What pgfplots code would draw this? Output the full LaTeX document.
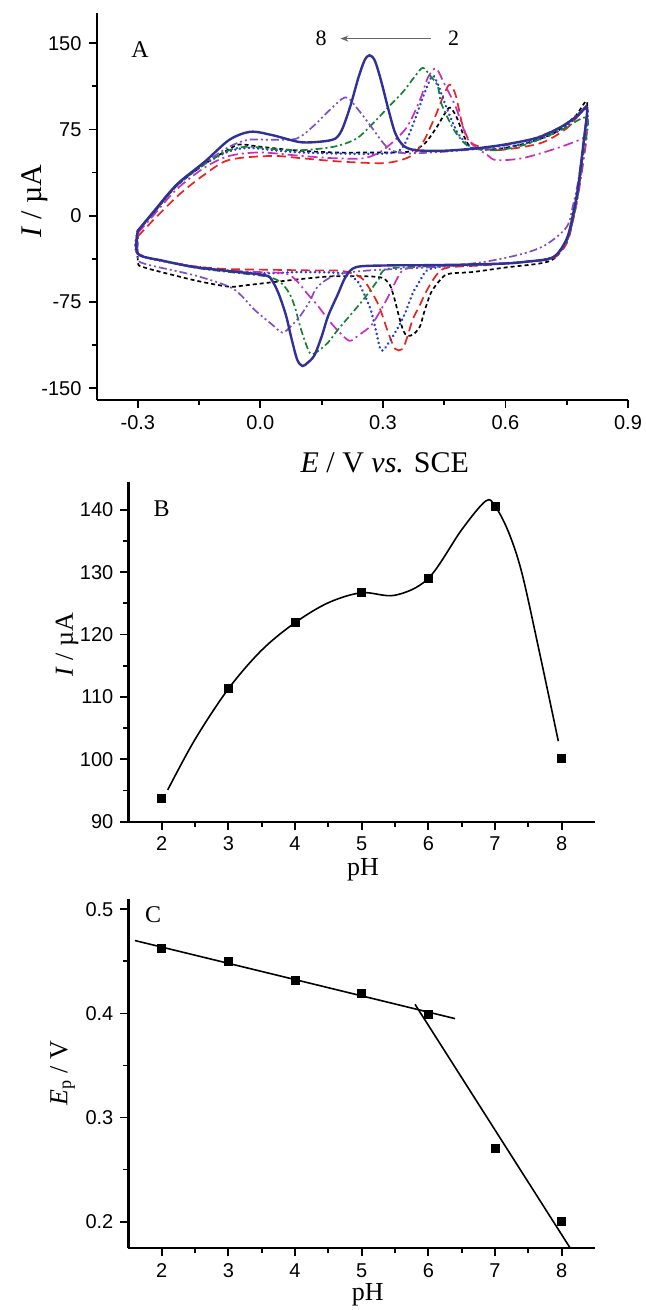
\documentclass[border=0pt]{standalone}
\usepackage{fontspec}
\setmainfont{Liberation Serif}
\newfontfamily\sansf{Liberation Sans}
\usepackage{pgfplots}
\pgfplotsset{compat=1.18}
\usetikzlibrary{arrows.meta}
\definecolor{cNavy}{RGB}{48,48,150}
\definecolor{cRed}{RGB}{235,35,30}
\definecolor{cBlue}{RGB}{35,60,220}
\definecolor{cMag}{RGB}{200,45,190}
\definecolor{cGreen}{RGB}{20,130,50}
\definecolor{cViolet}{RGB}{125,80,200}
\pgfplotsset{
  common/.style={
    scale only axis,
    axis x line*=bottom, axis y line*=left,
    axis line style={line width=1.1pt, black},
    tick align=outside,
    major tick length=4pt, minor tick length=2.5pt,
    every tick/.style={line width=0.9pt, black},
    tick label style={font=\sansf\fontsize{10}{12}\selectfont},
    /pgf/number format/assume math mode=true,
    anchor=south west,
  }
}
\begin{document}
\begin{tikzpicture}
\useasboundingbox (0,0) rectangle (323pt,655pt);
% ---------------- Panel A ----------------
\begin{axis}[common,
  at={(48.5pt,455.1pt)}, width=265.5pt, height=193.25pt,
  xmin=-0.4, xmax=0.9, ymin=-160, ymax=176,
  xtick={-0.3,0,0.3,0.6,0.9}, minor x tick num=1,
  ytick={-150,-75,0,75,150}, minor y tick num=1,
  xticklabel style={/pgf/number format/.cd, fixed, fixed zerofill, precision=1},
  xlabel={\textit{E} / V \textit{vs.} SCE},
  ylabel={\textit{I} / µA},
  xlabel style={font=\fontsize{15}{17}\selectfont, at={(axis description cs:0.542,-0.1635)}, anchor=center},
  ylabel style={font=\fontsize{15}{17}\selectfont, at={(axis description cs:-0.118,0.514)}, anchor=center, rotate=0},
  line width=0.85pt,
]
% pH 2 black
\addplot[black, smooth, tension=0.5, dash pattern=on 2pt off 1.5pt] coordinates {
(-0.30,-13)(-0.265,1)(-0.205,26)(-0.136,45)(-0.076,58)(-0.05,62)(0.00,60)(0.08,57)(0.18,55)(0.28,55)(0.36,55.5)(0.40,62)(0.43,76)(0.45,88)(0.464,94)(0.48,86)(0.50,68)(0.52,58.6)(0.58,58)(0.65,63)(0.72,72)(0.77,86)(0.80,99)
(0.79,60)(0.778,25)(0.766,0)(0.75,-22)(0.72,-37)(0.684,-41.5)(0.60,-45)(0.52,-48.9)(0.47,-50)(0.451,-52)(0.435,-58)(0.417,-67.4)(0.40,-85)(0.391,-96)(0.375,-103)(0.36,-104.4)(0.35,-100)(0.339,-87)(0.325,-68)(0.313,-58)(0.287,-53.2)(0.183,-52.6)(0.10,-55)(-0.032,-60.3)(-0.076,-61.7)(-0.15,-57)(-0.22,-51)(-0.287,-44.6)(-0.30,-40)(-0.30,-13)};
% pH 3 red
\addplot[cRed, smooth, tension=0.5, dash pattern=on 4.5pt off 2.5pt] coordinates {
(-0.30,-18)(-0.26,-3)(-0.20,18)(-0.136,36)(-0.076,48.6)(0.028,52)(0.10,50)(0.20,47)(0.296,45.7)(0.34,48)(0.373,53)(0.40,65)(0.43,88)(0.45,106)(0.464,114)(0.478,105)(0.494,80)(0.51,66)(0.529,61)(0.58,57)(0.685,63)(0.75,76)(0.80,93)
(0.79,55)(0.778,20)(0.766,-3)(0.75,-24)(0.717,-37)(0.65,-40)(0.55,-43)(0.46,-45)(0.434,-50.3)(0.408,-64.6)(0.39,-78)(0.373,-90.2)(0.36,-105)(0.348,-115.8)(0.33,-115.8)(0.313,-101.6)(0.30,-88)(0.287,-75.9)(0.265,-62)(0.244,-53.2)(0.20,-48)(0.12,-47.5)(0.03,-47)(-0.10,-46)(-0.20,-42)(-0.30,-33)(-0.30,-18)};
% pH 4 blue
\addplot[cBlue, smooth, tension=0.5, line cap=round, dash pattern=on 0.1pt off 2.2pt, line width=1.3pt] coordinates {
(-0.30,-13)(-0.265,1)(-0.205,26)(-0.136,45)(-0.076,56)(-0.03,59)(0.03,57)(0.10,55)(0.20,54)(0.30,54)(0.345,58)(0.373,78.6)(0.40,105)(0.421,121.4)(0.435,114)(0.442,107)(0.46,90)(0.48,74)(0.494,67)(0.52,59)(0.58,58)(0.68,66)(0.75,78)(0.80,93)
(0.79,58)(0.778,23)(0.766,0)(0.75,-22)(0.717,-36)(0.65,-40)(0.55,-42.5)(0.45,-44)(0.408,-47.5)(0.39,-57)(0.373,-67.4)(0.355,-84)(0.339,-95.9)(0.315,-110)(0.296,-117.2)(0.283,-100)(0.27,-81.6)(0.25,-65)(0.235,-56)(0.20,-50)(0.10,-49)(0.0,-50)(-0.10,-47)(-0.20,-42)(-0.30,-33)(-0.30,-13)};
% pH 5 magenta
\addplot[cMag, smooth, tension=0.5, dash pattern=on 5pt off 2pt on 1pt off 2pt] coordinates {
(-0.30,-15)(-0.265,-1)(-0.205,23)(-0.136,42)(-0.076,52)(0.00,55)(0.10,52)(0.18,50)(0.253,50)(0.30,57)(0.356,75.7)(0.39,100)(0.41,120)(0.43,128)(0.45,115)(0.477,95.7)(0.495,78)(0.512,64.3)(0.555,52.9)(0.578,48.3)(0.641,50)(0.72,58)(0.788,67)(0.80,72)
(0.79,45)(0.778,18)(0.766,-3)(0.75,-22)(0.717,-36)(0.65,-40)(0.55,-42.5)(0.45,-43.5)(0.38,-44.5)(0.348,-47.5)(0.33,-58)(0.313,-70.3)(0.29,-85)(0.27,-95.9)(0.24,-104)(0.218,-108.7)(0.19,-100)(0.166,-90.2)(0.14,-78)(0.114,-67.4)(0.09,-57)(0.063,-50.3)(0.0,-49)(-0.10,-47)(-0.20,-42)(-0.30,-33)(-0.30,-15)};
% pH 6 green
\addplot[cGreen, smooth, tension=0.5, dash pattern=on 3.5pt off 1.5pt on 1pt off 1.5pt] coordinates {
(-0.30,-13)(-0.265,1)(-0.205,26)(-0.136,45)(-0.076,57)(-0.03,60)(0.03,58)(0.10,57)(0.18,60)(0.235,67)(0.275,80)(0.313,94.3)(0.35,108)(0.38,122)(0.398,128.6)(0.415,122)(0.434,112.9)(0.442,98.6)(0.46,84)(0.477,72.9)(0.50,63)(0.52,58.6)(0.58,57)(0.65,62)(0.734,74)(0.80,85)
(0.79,52)(0.778,20)(0.766,-2)(0.75,-22)(0.717,-36)(0.65,-40)(0.55,-42.5)(0.45,-43.5)(0.313,-46)(0.29,-55)(0.27,-64.6)(0.245,-76)(0.218,-87.3)(0.19,-99)(0.166,-110.1)(0.14,-118)(0.123,-120.1)(0.11,-110)(0.097,-95.9)(0.085,-80)(0.071,-67.4)(0.05,-58)(0.028,-54)(0.0,-52)(-0.10,-48)(-0.162,-45)(-0.24,-39)(-0.30,-33)(-0.30,-13)};
% pH 8 violet
\addplot[cViolet, smooth, tension=0.5, dash pattern=on 4pt off 1.5pt on 1pt off 1.5pt on 1pt off 1.5pt] coordinates {
(-0.30,-13)(-0.265,2)(-0.205,27)(-0.136,46)(-0.076,60)(-0.03,66)(0.03,66)(0.089,67.1)(0.13,78)(0.17,92)(0.209,102.9)(0.24,92)(0.27,78)(0.313,58.6)(0.356,54.3)(0.42,55)(0.50,57)(0.58,60)(0.66,66)(0.74,78)(0.80,93)
(0.79,60)(0.778,30)(0.766,10)(0.75,-9.7)(0.70,-25)(0.643,-33)(0.55,-40)(0.45,-44)(0.35,-46)(0.25,-48)(0.183,-51.7)(0.14,-61.7)(0.12,-75)(0.097,-87.3)(0.075,-96)(0.054,-101.6)(0.03,-95)(-0.015,-81.6)(-0.045,-70)(-0.076,-61.7)(-0.162,-51.7)(-0.283,-41.8)(-0.30,-36)(-0.30,-13)};
% pH 7 navy
\addplot[cNavy, smooth, tension=0.5, line width=1.2pt] coordinates {
(-0.30,-13)(-0.265,2)(-0.205,27)(-0.136,47)(-0.076,66)(-0.024,73)(0.03,70)(0.097,64)(0.15,64.5)(0.183,67)(0.20,75)(0.22,95)(0.24,120)(0.255,135)(0.267,139.5)(0.28,135)(0.295,118)(0.313,93)(0.33,72)(0.35,61)(0.38,57)(0.45,56.5)(0.529,58.6)(0.60,62)(0.68,68)(0.74,78)(0.78,88)(0.80,94)
(0.79,60)(0.778,25)(0.766,2)(0.75,-20)(0.717,-36)(0.65,-40)(0.6,-41.5)(0.5,-42.5)(0.4,-43)(0.313,-43.2)(0.235,-44.6)(0.209,-53)(0.19,-68)(0.166,-87)(0.15,-105)(0.132,-121.5)(0.115,-128)(0.103,-130.6)(0.09,-125)(0.075,-105)(0.063,-87)(0.045,-68)(0.028,-56)(0.011,-51.7)(-0.08,-48)(-0.162,-44.6)(-0.24,-39)(-0.30,-33)(-0.30,-13)};
\node[font=\fontsize{12}{14}\selectfont] at (axis description cs:0.081,0.905) {A};
\node[font=\fontsize{11}{13}\selectfont] at (axis cs:0.149,154) {8};
\node[font=\fontsize{11}{13}\selectfont] at (axis cs:0.473,154) {2};
\draw[-{Stealth[length=4pt,width=3pt]}, black!60, line width=0.6pt] (axis cs:0.417,154) -- (axis cs:0.196,154);
\end{axis}
% ---------------- Panel B ----------------
\begin{axis}[common,
  at={(64.2pt,244.15pt)}, width=233.3pt, height=170pt,
  xmin=1.5, xmax=8.5, ymin=90, ymax=144.5,
  xtick={2,3,4,5,6,7,8}, minor x tick num=1,
  ytick={90,100,110,120,130,140}, minor y tick num=1,
  xlabel={pH}, ylabel={\textit{I} / µA},
  xlabel style={font=\fontsize{13}{15}\selectfont, at={(axis description cs:0.503,-0.142)}, anchor=center},
  ylabel style={font=\fontsize{13}{15}\selectfont, at={(axis description cs:-0.1316,0.52)}, anchor=center},
]
\addplot[black, smooth, tension=0.55, line width=0.8pt] coordinates {
(2.09,95.1)(2.5,103.2)(3,111.3)(3.5,117.5)(4,121.9)(4.5,125.1)(5,126.7)(5.5,126.3)(6,129.0)(6.5,136.8)(6.86,141.4)(7.0,140.6)(7.2,136.5)(7.4,130)(7.65,118)(7.95,102.9)};
\addplot[only marks, mark=square*, mark size=2pt, black] coordinates {
(2,93.7)(3,111.3)(4,121.9)(5,126.7)(6,129.0)(7,140.6)(8,100.1)};
\node[font=\fontsize{12}{14}\selectfont] at (axis description cs:0.0714,0.922) {B};
\end{axis}
% ---------------- Panel C ----------------
\begin{axis}[common,
  at={(64.2pt,30.85pt)}, width=233.3pt, height=174.5pt,
  xmin=1.5, xmax=8.5, ymin=0.1744, ymax=0.5096,
  xtick={2,3,4,5,6,7,8}, minor x tick num=1,
  ytick={0.2,0.3,0.4,0.5}, minor y tick num=1,
  yticklabel style={/pgf/number format/.cd, fixed, fixed zerofill, precision=1},
  xlabel={pH}, ylabel={\textit{E}\textsubscript{p} / V},
  xlabel style={font=\fontsize{13}{15}\selectfont, at={(axis description cs:0.513,-0.134)}, anchor=center},
  ylabel style={font=\fontsize{13}{15}\selectfont, at={(axis description cs:-0.141,0.502)}, anchor=center},
]
\addplot[black, line width=0.8pt] coordinates {(1.597,0.470)(6.40,0.395)};
\addplot[black, line width=0.8pt] coordinates {(5.80,0.4087)(8.13,0.1744)};
\addplot[only marks, mark=square*, mark size=2pt, black] coordinates {
(2,0.462)(3,0.4497)(4,0.432)(5,0.419)(6,0.399)(7,0.270)(8,0.200)};
\node[font=\fontsize{12}{14}\selectfont] at (axis description cs:0.053,0.955) {C};
\end{axis}
\end{tikzpicture}
\end{document}
